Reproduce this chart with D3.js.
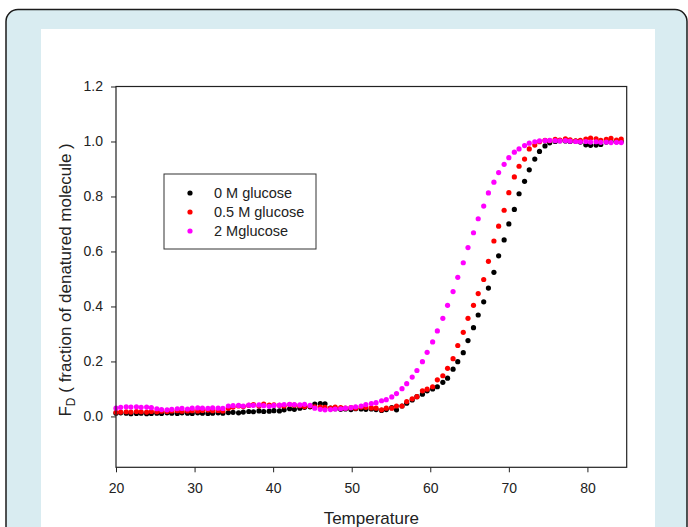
<!DOCTYPE html>
<html>
<head>
<meta charset="utf-8">
<script src="https://cdn.jsdelivr.net/npm/d3@7/dist/d3.min.js"></script>
<style>
  body { margin: 0; background: #fff; }
  svg { display: block; font-family: "Liberation Sans", Arial, sans-serif; }
  .tick text { fill: #222; font-size: 14px; }
  .tick line { stroke: #222; }
</style>
</head>
<body>
<div id="chart"></div>
<script>
// temperature grid shared by the three runs (deg C)
const temps = [20.0, 20.6, 21.3, 21.9, 22.6, 23.2, 23.9, 24.5, 25.2, 25.8,
    26.5, 27.1, 27.8, 28.4, 29.1, 29.7, 30.4, 31.0, 31.7, 32.3,
    33.0, 33.6, 34.3, 34.9, 35.6, 36.2, 36.9, 37.5, 38.2, 38.8,
    39.5, 40.1, 40.8, 41.4, 42.1, 42.7, 43.4, 44.0, 44.7, 45.3,
    46.0, 46.6, 47.3, 47.9, 48.6, 49.2, 49.9, 50.5, 51.2, 51.8,
    52.5, 53.1, 53.8, 54.4, 55.1, 55.7, 56.4, 57.0, 57.7, 58.3,
    59.0, 59.6, 60.3, 60.9, 61.6, 62.2, 62.9, 63.5, 64.2, 64.8,
    65.5, 66.1, 66.8, 67.4, 68.1, 68.7, 69.4, 70.0, 70.7, 71.3,
    72.0, 72.6, 73.3, 73.9, 74.6, 75.2, 75.9, 76.5, 77.2, 77.8,
    78.5, 79.1, 79.8, 80.4, 81.1, 81.7, 82.4, 83.0, 83.7, 84.3];

// 0 M glucose
const fd0 = [0.012, 0.013, 0.012, 0.010, 0.011, 0.012, 0.010, 0.011, 0.012, 0.011,
    0.013, 0.012, 0.011, 0.013, 0.012, 0.011, 0.013, 0.012, 0.011, 0.012,
    0.013, 0.012, 0.014, 0.015, 0.013, 0.016, 0.018, 0.017, 0.020, 0.018,
    0.019, 0.021, 0.020, 0.024, 0.028, 0.026, 0.030, 0.033, 0.035, 0.045,
    0.047, 0.046, 0.030, 0.028, 0.026, 0.027, 0.025, 0.028, 0.027, 0.026,
    0.027, 0.025, 0.022, 0.025, 0.032, 0.024, 0.038, 0.048, 0.060, 0.072,
    0.081, 0.093, 0.100, 0.108, 0.124, 0.139, 0.172, 0.199, 0.232, 0.276,
    0.323, 0.369, 0.417, 0.467, 0.524, 0.584, 0.642, 0.700, 0.753, 0.810,
    0.855, 0.897, 0.936, 0.964, 0.984, 0.995, 1.000, 1.003, 1.002, 1.000,
    1.001, 0.998, 0.988, 0.986, 0.987, 0.989, 0.998, 1.000, 0.999, 1.000];

// 0.5 M glucose
const fd05 = [0.015, 0.016, 0.017, 0.016, 0.018, 0.017, 0.016, 0.018, 0.017, 0.019,
    0.018, 0.020, 0.021, 0.019, 0.020, 0.021, 0.020, 0.022, 0.023, 0.021,
    0.022, 0.020, 0.030, 0.034, 0.038, 0.036, 0.040, 0.043, 0.038, 0.045,
    0.041, 0.042, 0.040, 0.038, 0.043, 0.041, 0.039, 0.036, 0.038, 0.035,
    0.034, 0.033, 0.030, 0.034, 0.032, 0.030, 0.032, 0.030, 0.034, 0.033,
    0.031, 0.030, 0.024, 0.030, 0.030, 0.038, 0.038, 0.054, 0.064, 0.072,
    0.093, 0.099, 0.108, 0.133, 0.148, 0.175, 0.210, 0.258, 0.306, 0.357,
    0.404, 0.447, 0.498, 0.564, 0.638, 0.692, 0.750, 0.814, 0.871, 0.910,
    0.936, 0.973, 0.987, 0.999, 1.004, 1.003, 1.008, 1.005, 1.010, 1.006,
    1.002, 1.004, 1.009, 1.012, 1.010, 1.004, 1.008, 1.011, 1.005, 1.009];

// 2 M glucose
const fd2 = [0.030, 0.033, 0.035, 0.034, 0.035, 0.033, 0.034, 0.032, 0.028, 0.025,
    0.024, 0.026, 0.028, 0.029, 0.027, 0.030, 0.031, 0.030, 0.029, 0.031,
    0.030, 0.029, 0.038, 0.039, 0.040, 0.038, 0.041, 0.040, 0.042, 0.039,
    0.037, 0.040, 0.041, 0.043, 0.044, 0.043, 0.042, 0.044, 0.040, 0.030,
    0.026, 0.024, 0.025, 0.027, 0.028, 0.030, 0.032, 0.035, 0.038, 0.043,
    0.047, 0.050, 0.057, 0.061, 0.071, 0.083, 0.101, 0.119, 0.143, 0.167,
    0.199, 0.233, 0.271, 0.311, 0.357, 0.404, 0.454, 0.506, 0.559, 0.614,
    0.668, 0.719, 0.765, 0.813, 0.852, 0.887, 0.917, 0.941, 0.961, 0.973,
    0.985, 0.994, 0.999, 1.002, 1.003, 1.004, 1.003, 1.002, 1.003, 1.001,
    1.000, 0.999, 1.000, 0.998, 0.999, 0.997, 0.998, 0.996, 0.997, 0.996];

const seriesNames = ['0 M glucose', '0.5 M glucose', '2 Mglucose'];
const seriesColors = ['#000000', '#ff0000', '#ff00ff'];
const seriesValues = [fd0, fd05, fd2];

const xTicks = [20, 30, 40, 50, 60, 70, 80];
const yTicks = [0.0, 0.2, 0.4, 0.6, 0.8, 1.0, 1.2];

const width = 688;
const height = 527;

const svg = d3.select('#chart')
    .append('svg')
    .attr('width', width)
    .attr('height', height);

// card background
svg.append('rect')
    .attr('x', 6).attr('y', 9.5)
    .attr('width', 681).attr('height', 540)
    .attr('rx', 12)
    .attr('fill', '#d9ecf1')
    .attr('stroke', '#1b1b1b')
    .attr('stroke-width', 1.5);

svg.append('rect')
    .attr('x', 41).attr('y', 29)
    .attr('width', 614).attr('height', 510)
    .attr('fill', '#ffffff');

// plot area
const plotLeft = 116, plotRight = 626.7, plotTop = 86.5, plotBottom = 467.3;

const xScale = d3.scaleLinear().domain([20, 85]).range([plotLeft, plotRight]);
const yScale = d3.scaleLinear().domain([-0.185, 1.2]).range([plotBottom, plotTop]);

const chart = svg.append('g');

chart.append('g')
    .attr('transform', 'translate(' + plotLeft + ',0)')
    .call(d3.axisLeft(yScale).tickValues(yTicks).tickSize(5).tickPadding(8)
        .tickFormat(d3.format('.1f')))
    .call(g => g.select('.domain').remove());

chart.append('g')
    .attr('transform', 'translate(0,' + plotBottom + ')')
    .call(d3.axisBottom(xScale).tickValues(xTicks).tickSize(5).tickPadding(11))
    .call(g => g.select('.domain').remove());

chart.selectAll('.tick text').attr('font-family', null).attr('font-size', null);

// the points, black first so magenta lands on top
seriesValues.forEach((vals, s) => {
    chart.append('g')
        .selectAll('circle')
        .data(temps.map((t, i) => ({ x: t, y: vals[i] })))
        .enter().append('circle')
        .attr('cx', d => xScale(d.x))
        .attr('cy', d => yScale(d.y))
        .attr('r', 2.6)
        .attr('fill', seriesColors[s]);
});

// frame
chart.append('rect')
    .attr('x', plotLeft).attr('y', plotTop)
    .attr('width', plotRight - plotLeft).attr('height', plotBottom - plotTop)
    .attr('fill', 'none')
    .attr('stroke', '#222')
    .attr('stroke-width', 1.2);

// axis titles
chart.append('text')
    .attr('x', (plotLeft + plotRight) / 2)
    .attr('y', 524)
    .attr('text-anchor', 'middle')
    .attr('font-size', '17px')
    .attr('fill', '#222')
    .text('Temperature');

const yTitle = chart.append('text')
    .attr('transform', 'translate(71,' + ((plotTop + plotBottom) / 2 + 3) + ') rotate(-90)')
    .attr('text-anchor', 'middle')
    .attr('font-size', '17px')
    .attr('fill', '#222');
yTitle.append('tspan').text('F');
yTitle.append('tspan').attr('font-size', '12px').attr('dy', 4).text('D');
yTitle.append('tspan').attr('dy', -4).text(' ( fraction of denatured molecule )');

// legend
const legend = chart.append('g');
legend.append('rect')
    .attr('x', 164).attr('y', 174)
    .attr('width', 152).attr('height', 75)
    .attr('fill', '#fff')
    .attr('stroke', '#333')
    .attr('stroke-width', 1);

seriesNames.forEach((name, i) => {
    const yy = 193 + i * 19;
    legend.append('circle')
        .attr('cx', 190).attr('cy', yy).attr('r', 2.6)
        .attr('fill', seriesColors[i]);
    legend.append('text')
        .attr('x', 214).attr('y', yy)
        .attr('dy', '0.35em')
        .attr('font-size', '14.5px')
        .attr('fill', '#222')
        .text(name);
});
</script>
</body>
</html>
